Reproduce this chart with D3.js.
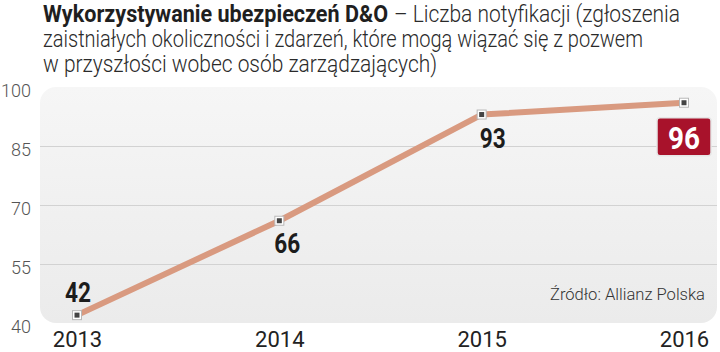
<!DOCTYPE html>
<html>
<head>
<meta charset="utf-8">
<script src="https://cdn.jsdelivr.net/npm/d3@7"></script>
<style>
  body { margin: 0; background: #fff; }
  svg { display: block; }
  text { font-family: Roboto, "Noto Sans", sans-serif; }
</style>
</head>
<body>
<div id="chart"></div>
<script>
  // data
  let years = ['2013', '2014', '2015', '2016'];
  let notifications = [42, 66, 93, 96];
  let yTicks = [40, 55, 70, 85, 100];
  let titleBold = 'Wykorzystywanie ubezpieczeń D&O';
  let titleLines = ['– Liczba notyfikacji (zgłoszenia',
    'zaistniałych okoliczności i zdarzeń, które mogą wiązać się z pozwem',
    'w przyszłości wobec osób zarządzających)'];
  let source = 'Źródło: Allianz Polska';

  let width = 720;
  let height = 352;
  let panel = {x0: 40, x1: 717, y0: 87, y1: 323};

  let svg = d3.select('#chart')
  .append('svg')
  .attr('width', width)
  .attr('height', height);

  let defs = svg.append('defs');
  let grad = defs.append('linearGradient')
  .attr('id', 'bg')
  .attr('x1', 0).attr('y1', 0).attr('x2', 0).attr('y2', 1);
  grad.append('stop').attr('offset', '0%').attr('stop-color', '#f6f6f6');
  grad.append('stop').attr('offset', '100%').attr('stop-color', '#ebebeb');

  let x = d3.scalePoint().domain(years).range([77, 684]);
  let y = d3.scaleLinear().domain([40, 100]).range([panel.y1, panel.y0]);

  //title
  svg.append('text')
  .attr('x', 43).attr('y', 22)
  .attr('font-size', 23).attr('font-weight', 700)
  .attr('fill', '#1f1f1f')
  .attr('textLength', 345).attr('lengthAdjust', 'spacingAndGlyphs')
  .text(titleBold);

  let lightSpecs = [
    {x: 394, y: 22, w: 286},
    {x: 43, y: 47, w: 600},
    {x: 43, y: 72, w: 394}
  ];
  svg.selectAll('.title-light')
  .data(titleLines)
  .enter().append('text')
  .attr('class', 'title-light')
  .attr('x', (d, i) => lightSpecs[i].x)
  .attr('y', (d, i) => lightSpecs[i].y)
  .attr('font-size', 23).attr('font-weight', 300)
  .attr('fill', '#2a2a2a')
  .attr('textLength', (d, i) => lightSpecs[i].w)
  .attr('lengthAdjust', 'spacingAndGlyphs')
  .text((d) => d);

  //panel background
  svg.append('rect')
  .attr('x', panel.x0).attr('y', panel.y0)
  .attr('width', panel.x1 - panel.x0)
  .attr('height', panel.y1 - panel.y0)
  .attr('rx', 16).attr('ry', 16)
  .attr('fill', 'url(#bg)');

  //gridlines
  svg.selectAll('.grid')
  .data(yTicks.filter((t) => t > 40 && t < 100))
  .enter().append('line')
  .attr('class', 'grid')
  .attr('x1', panel.x0).attr('x2', panel.x1)
  .attr('y1', (d) => Math.round(y(d)) + 0.5)
  .attr('y2', (d) => Math.round(y(d)) + 0.5)
  .attr('stroke', '#d2d2d2').attr('stroke-width', 1);

  //y axis
  let yAxis = svg.append('g')
  .attr('transform', 'translate(31,0)')
  .call(d3.axisLeft(y).tickValues(yTicks).tickSize(0).tickPadding(0));
  yAxis.select('.domain').remove();
  yAxis.selectAll('text')
  .attr('font-size', 18).attr('font-weight', 300)
  .attr('fill', '#555')
  .attr('dy', '0.5em')
  .style('font-family', 'Roboto, sans-serif');

  //x axis
  let xAxis = svg.append('g')
  .attr('transform', 'translate(0,331)')
  .call(d3.axisBottom(x).tickSize(0).tickPadding(0));
  xAxis.select('.domain').remove();
  xAxis.selectAll('text')
  .attr('font-size', 22).attr('font-weight', 400)
  .attr('fill', '#222')
  .attr('dy', '0.72em')
  .style('font-family', 'Roboto, sans-serif');

  //the line
  let data = years.map((yr, i) => ({year: yr, value: notifications[i]}));
  let line = d3.line().x((d) => x(d.year)).y((d) => y(d.value));

  svg.append('path')
  .datum(data)
  .attr('d', line)
  .attr('fill', 'none')
  .attr('stroke', '#d99a80')
  .attr('stroke-width', 6)
  .attr('stroke-linejoin', 'round');

  //markers
  let markers = svg.selectAll('.marker')
  .data(data)
  .enter().append('g')
  .attr('class', 'marker')
  .attr('transform', (d) => `translate(${x(d.year)}, ${y(d.value)})`);
  markers.append('rect')
  .attr('x', -4.5).attr('y', -4.5).attr('width', 9).attr('height', 9)
  .attr('fill', '#fff').attr('stroke', '#b8b8b8').attr('stroke-width', 1);
  markers.append('rect')
  .attr('x', -2.5).attr('y', -2.5).attr('width', 5).attr('height', 5)
  .attr('fill', '#444');

  //value labels (last one gets the red box)
  let labelOffsets = [
    {dx: 1, dy: -13},
    {dx: 8, dy: 32},
    {dx: 11, dy: 33}
  ];
  svg.selectAll('.val')
  .data(data.slice(0, 3))
  .enter().append('text')
  .attr('class', 'val')
  .attr('x', (d, i) => x(d.year) + labelOffsets[i].dx)
  .attr('y', (d, i) => y(d.value) + labelOffsets[i].dy)
  .attr('text-anchor', 'middle')
  .attr('font-size', 28).attr('font-weight', 700)
  .attr('fill', '#1c1c1c')
  .attr('textLength', 26).attr('lengthAdjust', 'spacingAndGlyphs')
  .text((d) => d.value);

  let last = data[data.length - 1];
  let bx = x(last.year);
  let by = y(last.value);
  svg.append('rect')
  .attr('x', bx - 27).attr('y', by + 15)
  .attr('width', 54).attr('height', 38)
  .attr('rx', 3).attr('ry', 3)
  .attr('fill', '#a8122b')
  .attr('stroke', '#e6e6e6').attr('stroke-width', 1.5);
  svg.append('text')
  .attr('x', bx).attr('y', by + 46)
  .attr('text-anchor', 'middle')
  .attr('font-size', 32).attr('font-weight', 700)
  .attr('fill', '#fff')
  .attr('textLength', 32).attr('lengthAdjust', 'spacingAndGlyphs')
  .text(last.value);

  //source
  svg.append('text')
  .attr('x', 705).attr('y', 300)
  .attr('text-anchor', 'end')
  .attr('font-size', 16).attr('font-weight', 300)
  .attr('fill', '#333')
  .attr('textLength', 155).attr('lengthAdjust', 'spacingAndGlyphs')
  .text(source);
</script>
</body>
</html>
